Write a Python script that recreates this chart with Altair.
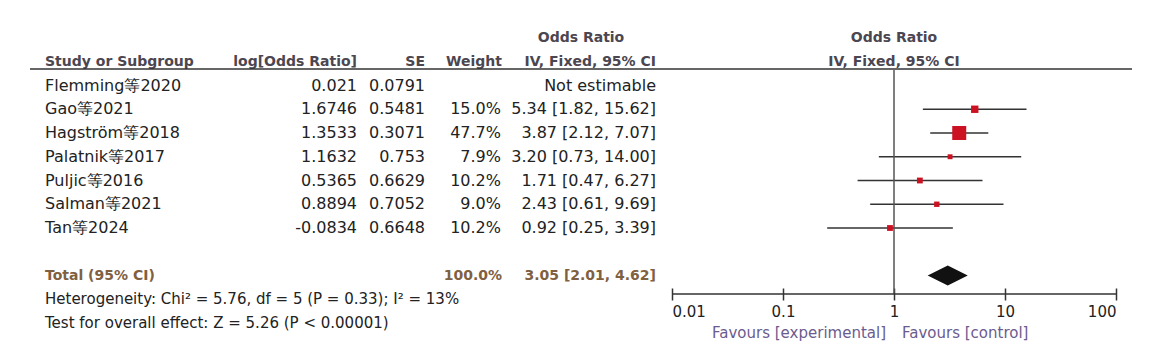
import altair as alt
import pandas as pd

# ---------------- data ----------------
studies = ["Flemming等2020", "Gao等2021", "Hagström等2018", "Palatnik等2017",
           "Puljic等2016", "Salman等2021", "Tan等2024"]
log_or = [0.021, 1.6746, 1.3533, 1.1632, 0.5365, 0.8894, -0.0834]
se = [0.0791, 0.5481, 0.3071, 0.753, 0.6629, 0.7052, 0.6648]
weight = [None, 15.0, 47.7, 7.9, 10.2, 9.0, 10.2]
odds = [None, 5.34, 3.87, 3.20, 1.71, 2.43, 0.92]
ci_low = [None, 1.82, 2.12, 0.73, 0.47, 0.61, 0.25]
ci_high = [None, 15.62, 7.07, 14.00, 6.27, 9.69, 3.39]

total_label = "Total (95% CI)"
total_weight = 100.0
total_or = 3.05
total_low = 2.01
total_high = 4.62

heterogeneity = "Heterogeneity: Chi² = 5.76, df = 5 (P = 0.33); I² = 13%"
overall = "Test for overall effect: Z = 5.26 (P < 0.00001)"

axis_ticks = [0.01, 0.1, 1, 10, 100]
headers = ["Study or Subgroup", "log[Odds Ratio]", "SE", "Weight", "IV, Fixed, 95% CI"]
header_top = "Odds Ratio"
favours_left = "Favours [experimental]"
favours_right = "Favours [control]"

# ---------------- layout (row order) ----------------
FONT = "DejaVu Sans"
ROW_H1, ROW_H2 = 0, 1
study_rows = list(range(2, 2 + len(studies)))
ROW_TOTAL, ROW_HET, ROW_TEST = 10, 11, 12
TXT = "#222222"
HEAD = "#4b4650"
BROWN = "#80603f"
PURPLE = "#6c5b8e"

def fmt_ci(o, l, h):
    if o is None:
        return "Not estimable"
    return f"{o:.2f} [{l:.2f}, {h:.2f}]"

rows = pd.DataFrame({
    "row": study_rows,
    "study": studies,
    "logor": [str(v) for v in log_or],
    "se": [str(v) for v in se],
    "weight_txt": [("" if w is None else f"{w:.1f}%") for w in weight],
    "ci_txt": [fmt_ci(o, l, h) for o, l, h in zip(odds, ci_low, ci_high)],
    "weight": weight,
    "or": odds,
    "lo": ci_low,
    "hi": ci_high,
})
est = rows.dropna(subset=["or"])

yscale = alt.Scale(domain=[0, 12], range=[38, 323], zero=False, nice=False)
xscale = alt.Scale(type="log", domain=[0.01, 100], range=[672, 1116], nice=False)

Y = alt.Y("row:Q", scale=yscale, axis=None)

XAXIS = alt.Axis(values=axis_ticks, format="~g", labelFlush=True, domain=False,
                 grid=False, tickSize=12, tickWidth=1.5, tickColor="#333333",
                 labelFont=FONT, labelFontSize=15, labelColor=TXT,
                 labelPadding=4, title=None)


def text_layer(df, field, x, align, color=TXT, size=16, weight="normal"):
    return alt.Chart(df).mark_text(
        align=align, baseline="middle", font=FONT, fontSize=size,
        fontWeight=weight, color=color
    ).encode(x=alt.value(x), y=Y, text=f"{field}:N")

layers = []

# CI whiskers (carries the x axis)
layers.append(alt.Chart(est).mark_rule(color="#333333", strokeWidth=1.5).encode(
    x=alt.X("lo:Q", scale=xscale, axis=XAXIS, title=None),
    x2="hi:Q", y=Y))

# study table
layers += [
    text_layer(rows, "study", 45, "left"),
    text_layer(rows, "logor", 357, "right"),
    text_layer(rows, "se", 425, "right"),
    text_layer(rows, "weight_txt", 501, "right"),
    text_layer(rows, "ci_txt", 656, "right"),
]

# headers
hdr = pd.DataFrame({"row": [ROW_H2] * 5, "t": headers})
hdr_x = [45, 357, 425, 502, 656]
hdr_align = ["left", "right", "right", "right", "right"]
for i in range(5):
    layers.append(text_layer(hdr.iloc[[i]], "t", hdr_x[i], hdr_align[i],
                             color=HEAD, size=14, weight="bold"))
layers.append(text_layer(pd.DataFrame({"row": [ROW_H1], "t": [header_top]}), "t",
                         581, "center", color=HEAD, size=14, weight="bold"))

# right-side headers centred on OR = 1
rh = pd.DataFrame({"row": [ROW_H1, ROW_H2], "t": [header_top, headers[-1]], "x": [1, 1]})
layers.append(alt.Chart(rh).mark_text(
    align="center", baseline="middle", font=FONT, fontSize=14, fontWeight="bold", color=HEAD
).encode(x=alt.X("x:Q", scale=xscale, title=None), y=Y, text="t:N"))

# total row + footer
tot = pd.DataFrame({"row": [ROW_TOTAL], "label": [total_label],
                    "w": [f"{total_weight:.1f}%"],
                    "ci": [fmt_ci(total_or, total_low, total_high)]})
layers += [
    text_layer(tot, "label", 45, "left", color=BROWN, size=14, weight="bold"),
    text_layer(tot, "w", 502, "right", color=BROWN, size=14, weight="bold"),
    text_layer(tot, "ci", 656, "right", color=BROWN, size=14, weight="bold"),
]
foot = pd.DataFrame({"row": [ROW_HET, ROW_TEST], "t": [heterogeneity, overall]})
layers.append(text_layer(foot, "t", 45, "left", size=15))

# header underline
layers.append(alt.Chart(pd.DataFrame({"a": [0]})).mark_rule(color="#333333", strokeWidth=1.5)
              .encode(x=alt.value(30), x2=alt.value(1132), y=alt.value(69)))

# line of no effect
layers.append(alt.Chart(pd.DataFrame({"x": [1]})).mark_rule(color="#555555", strokeWidth=1.5)
              .encode(x=alt.X("x:Q", scale=xscale, title=None), y=alt.value(70), y2=alt.value(294)))

# axis line
layers.append(alt.Chart(pd.DataFrame({"a": [axis_ticks[0]], "b": [axis_ticks[-1]]}))
              .mark_rule(color="#333333", strokeWidth=1.5)
              .encode(x=alt.X("a:Q", scale=xscale, title=None), x2="b:Q", y=alt.value(294)))

# squares
layers.append(alt.Chart(est).mark_square(color="#cc1122", opacity=1).encode(
    x=alt.X("or:Q", scale=xscale, title=None),
    y=Y,
    size=alt.Size("weight:Q", scale=alt.Scale(domain=[7.9, 47.7], range=[24, 196]), legend=None)))

# diamond
DH = 0.42
dia = pd.DataFrame({"x": [total_low, total_or, total_high],
                    "y": [ROW_TOTAL, ROW_TOTAL - DH, ROW_TOTAL],
                    "y2": [ROW_TOTAL, ROW_TOTAL + DH, ROW_TOTAL]})
layers.append(alt.Chart(dia).mark_area(color="#111111", orient="vertical", opacity=1).encode(
    x=alt.X("x:Q", scale=xscale, title=None), y=alt.Y("y:Q", scale=yscale, axis=None), y2="y2:Q"))

# favours labels
fav = pd.DataFrame({"x": [1, 1], "t": [favours_left, favours_right]})
layers.append(alt.Chart(fav.iloc[[0]]).mark_text(
    align="right", baseline="middle", dx=-8, font=FONT, fontSize=15, color=PURPLE
).encode(x=alt.X("x:Q", scale=xscale, title=None), y=alt.value(333), text="t:N"))
layers.append(alt.Chart(fav.iloc[[1]]).mark_text(
    align="left", baseline="middle", dx=8, font=FONT, fontSize=15, color=PURPLE
).encode(x=alt.X("x:Q", scale=xscale, title=None), y=alt.value(333), text="t:N"))

chart = alt.layer(*layers).properties(
    width=1159, height=288,
    padding={"left": 0, "right": 0, "top": 0, "bottom": 66},
    autosize=alt.AutoSizeParams(type="none"),
    background="white",
).configure_view(stroke=None)

chart.save("out.html", embed_options={"renderer": "svg", "actions": False})
